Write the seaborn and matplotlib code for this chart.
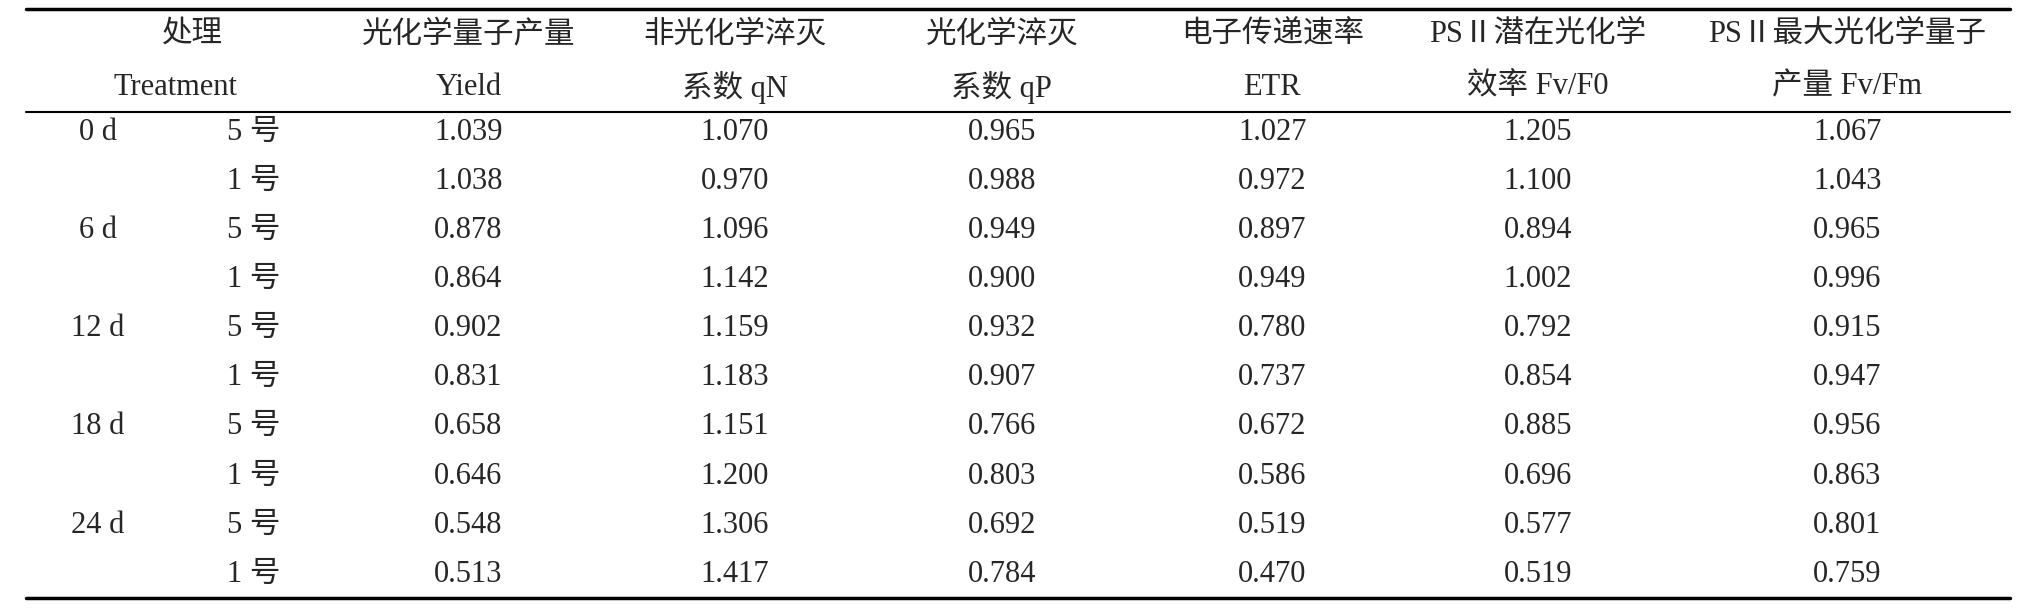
import matplotlib
matplotlib.use('Agg')
import matplotlib.pyplot as plt
import seaborn as sns

sns.set_theme(style='white')
plt.rcParams['font.family'] = ['Liberation Serif', 'Noto Sans CJK SC']

days = ['0 d', '', '6 d', '', '12 d', '', '18 d', '', '24 d', '']
lines = ['5 号', '1 号'] * 5
header1 = ['光化学量子产量', '非光化学淬灭', '光化学淬灭', '电子传递速率', 'PSⅡ潜在光化学', 'PSⅡ最大光化学量子']
header2 = ['Yield', '系数 qN', '系数 qP', 'ETR', '效率 Fv/F0', '产量 Fv/Fm']
yield_ = [1.039, 1.038, 0.878, 0.864, 0.902, 0.831, 0.658, 0.646, 0.548, 0.513]
qN = [1.070, 0.970, 1.096, 1.142, 1.159, 1.183, 1.151, 1.200, 1.306, 1.417]
qP = [0.965, 0.988, 0.949, 0.900, 0.932, 0.907, 0.766, 0.803, 0.692, 0.784]
etr = [1.027, 0.972, 0.897, 0.949, 0.780, 0.737, 0.672, 0.586, 0.519, 0.470]
fvf0 = [1.205, 1.100, 0.894, 1.002, 0.792, 0.854, 0.885, 0.696, 0.577, 0.519]
fvfm = [1.067, 1.043, 0.965, 0.996, 0.915, 0.947, 0.956, 0.863, 0.801, 0.759]
cols = [yield_, qN, qP, etr, fvf0, fvfm]

W, H = 1562, 474
fig = plt.figure(figsize=(20.32, 6.08), dpi=100)
ax = fig.add_axes([0, 0, 1, 1])
ax.set_xlim(0, W)
ax.set_ylim(H, 0)
ax.axis('off')

fs = 22
col_x = [360, 565, 770, 978, 1182, 1420]
ax.plot([20, 1545], [7, 7], color='black', lw=2.5)
ax.plot([20, 1545], [87, 87], color='black', lw=1.5)
ax.plot([20, 1545], [466, 466], color='black', lw=2.5)

ax.text(148, 27, '处理', ha='center', va='center', fontsize=fs)
ax.text(135, 68, 'Treatment', ha='center', va='center', fontsize=fs)
for x, a, b in zip(col_x, header1, header2):
    ax.text(x, 27, a, ha='center', va='center', fontsize=fs)
    ax.text(x, 68, b, ha='center', va='center', fontsize=fs)

for i in range(len(lines)):
    y = 103 + i * 38.3
    ax.text(75, y, days[i], ha='center', va='center', fontsize=fs)
    ax.text(195, y, lines[i], ha='center', va='center', fontsize=fs)
    for x, c in zip(col_x, cols):
        ax.text(x, y, '%.3f' % c[i], ha='center', va='center', fontsize=fs)

fig.savefig('out.png', dpi=100, facecolor='white')
